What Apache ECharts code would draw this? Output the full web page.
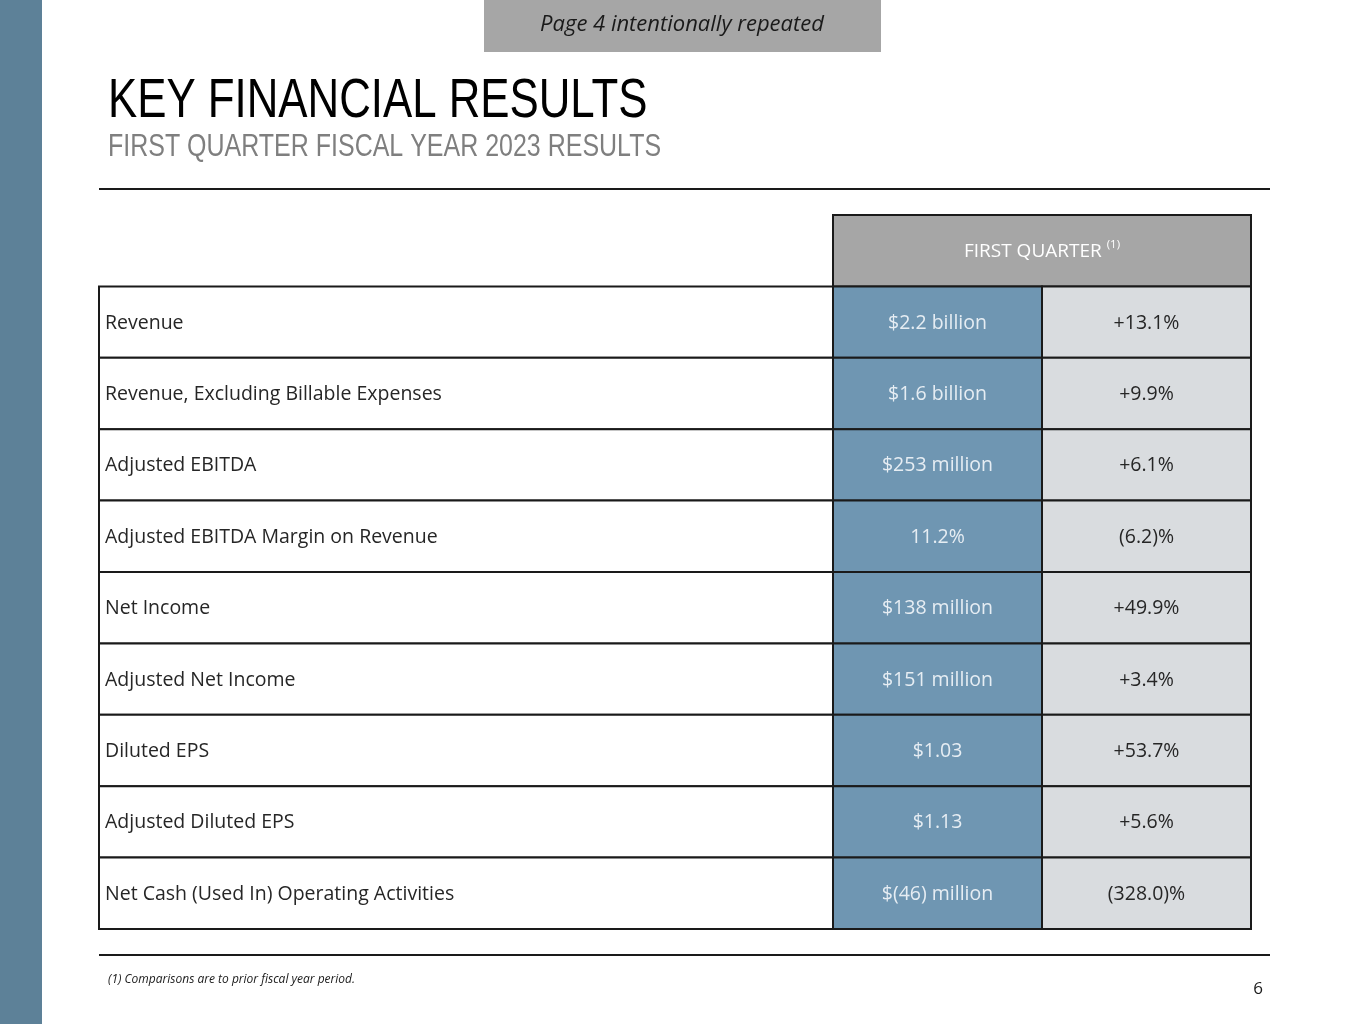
<!DOCTYPE html>
<html><head><meta charset="utf-8">
<script src="https://cdn.jsdelivr.net/npm/echarts@6/dist/echarts.min.js"></script>
<style>html,body{margin:0;padding:0;background:#fff}#c{width:1365px;height:1024px}</style>
</head><body><div id="c"></div>
<script>
const metrics = ['Revenue','Revenue, Excluding Billable Expenses','Adjusted EBITDA','Adjusted EBITDA Margin on Revenue','Net Income','Adjusted Net Income','Diluted EPS','Adjusted Diluted EPS','Net Cash (Used In) Operating Activities'];
const values = ['$2.2 billion','$1.6 billion','$253 million','11.2%','$138 million','$151 million','$1.03','$1.13','$(46) million'];
const changes = ['+13.1%','+9.9%','+6.1%','(6.2)%','+49.9%','+3.4%','+53.7%','+5.6%','(328.0)%'];
const headerLabel = 'FIRST QUARTER';
const headerNote = '(1)';
const pageTitle = 'KEY FINANCIAL RESULTS';
const pageSubtitle = 'FIRST QUARTER FISCAL YEAR 2023 RESULTS';
const banner = 'Page 4 intentionally repeated';
const footnote = '(1) Comparisons are to prior fiscal year period.';
const pageNumber = '6';

const rowCats = [''].concat(metrics);
const COL = [0, 734, 943, 1152];
const TF = '"Open Sans", Lato, sans-serif';
const NF = '"Liberation Sans", Arial, sans-serif';

function txt(x, y, text, size, fill, align, extra) {
  return {type: 'text', style: Object.assign({
    x: x, y: y, text: text, fill: fill, fontSize: size, fontFamily: TF,
    align: align, textAlign: align, verticalAlign: 'middle', textVerticalAlign: 'middle'
  }, extra || {})};
}

function renderCell(params, api) {
  const i = api.value(1);
  const yc = api.coord([0, i])[1];
  const h = api.size([0, 1])[1];
  const top = yc - h / 2;
  const X = v => api.coord([v, i])[0];
  const x0 = X(COL[0]), x1 = X(COL[1]), x2 = X(COL[2]), x3 = X(COL[3]);
  const st = {stroke: '#1a1a1a', lineWidth: 2};
  if (i === 0) {
    return {type: 'group', children: [
      {type: 'rect', shape: {x: x1, y: top, width: x3 - x1, height: h}, style: Object.assign({fill: '#a6a6a6'}, st)},
      {type: 'text', style: {
        x: (x1 + x3) / 2, y: yc + 1, text: '{a|' + headerLabel + ' }{s|' + headerNote + '}',
        align: 'center', textAlign: 'center', verticalAlign: 'middle', textVerticalAlign: 'middle',
        rich: {
          a: {fontSize: 19, fontFamily: TF, fill: '#ffffff', color: '#ffffff', lineHeight: 26},
          s: {fontSize: 11.5, fontFamily: TF, fill: '#ffffff', color: '#ffffff', lineHeight: 12, verticalAlign: 'top'}
        }
      }}
    ]};
  }
  const k = i - 1;
  return {type: 'group', children: [
    {type: 'rect', shape: {x: x0, y: top, width: x1 - x0, height: h}, style: Object.assign({fill: '#ffffff'}, st)},
    {type: 'rect', shape: {x: x1, y: top, width: x2 - x1, height: h}, style: Object.assign({fill: '#6f96b2'}, st)},
    {type: 'rect', shape: {x: x2, y: top, width: x3 - x2, height: h}, style: Object.assign({fill: '#d9dcdf'}, st)},
    txt(x0 + 6, yc + 1, metrics[k], 19.5, '#262626', 'left'),
    txt((x1 + x2) / 2, yc + 1, values[k], 19.5, '#e6edf3', 'center'),
    txt((x2 + x3) / 2, yc + 1, changes[k], 19.5, '#262626', 'center')
  ]};
}

const chart = echarts.init(document.getElementById('c'), null, {renderer: 'canvas'});
chart.setOption({
  animation: false,
  backgroundColor: '#ffffff',
  grid: {left: 99, right: 114, top: 215, bottom: 95, containLabel: false},
  xAxis: {type: 'value', min: COL[0], max: COL[3], show: false},
  yAxis: {type: 'category', data: rowCats, inverse: true, show: false},
  series: [{
    type: 'custom', silent: true, clip: false,
    renderItem: renderCell,
    data: rowCats.map((_, i) => [0, i])
  }],
  graphic: [
    {type: 'rect', left: 0, top: 0, shape: {width: 42, height: 1024}, style: {fill: '#5d8198'}},
    {type: 'rect', left: 484, top: 0, shape: {width: 397, height: 52}, style: {fill: '#a6a6a6'}},
    {type: 'text', x: 682, y: 25, style: {text: banner, fontSize: 22, fontStyle: 'italic', fontFamily: TF, fill: '#1a1a1a', align: 'center', textAlign: 'center', verticalAlign: 'middle', textVerticalAlign: 'middle'}},
    {type: 'text', x: 108, y: 102, scaleX: 0.782, style: {x: 0, y: 0, text: pageTitle, fontSize: 56, fontFamily: NF, fill: '#000000', align: 'left', textAlign: 'left', verticalAlign: 'middle', textVerticalAlign: 'middle'}},
    {type: 'text', x: 108, y: 147, scaleX: 0.806, style: {x: 0, y: 0, text: pageSubtitle, fontSize: 31, fontFamily: NF, fill: '#7f7f7f', align: 'left', textAlign: 'left', verticalAlign: 'middle', textVerticalAlign: 'middle'}},
    {type: 'line', shape: {x1: 99, y1: 189, x2: 1270, y2: 189}, style: {stroke: '#1a1a1a', lineWidth: 2}},
    {type: 'line', shape: {x1: 99, y1: 955, x2: 1270, y2: 955}, style: {stroke: '#1a1a1a', lineWidth: 2}},
    {type: 'text', x: 108, y: 980, style: {text: footnote, fontSize: 12, fontStyle: 'italic', fontFamily: TF, fill: '#1a1a1a', align: 'left', textAlign: 'left', verticalAlign: 'middle', textVerticalAlign: 'middle'}},
    {type: 'text', x: 1258, y: 989, style: {text: pageNumber, fontSize: 17, fontFamily: TF, fill: '#1a1a1a', align: 'center', textAlign: 'center', verticalAlign: 'middle', textVerticalAlign: 'middle'}}
  ]
});
</script>
</body></html>
